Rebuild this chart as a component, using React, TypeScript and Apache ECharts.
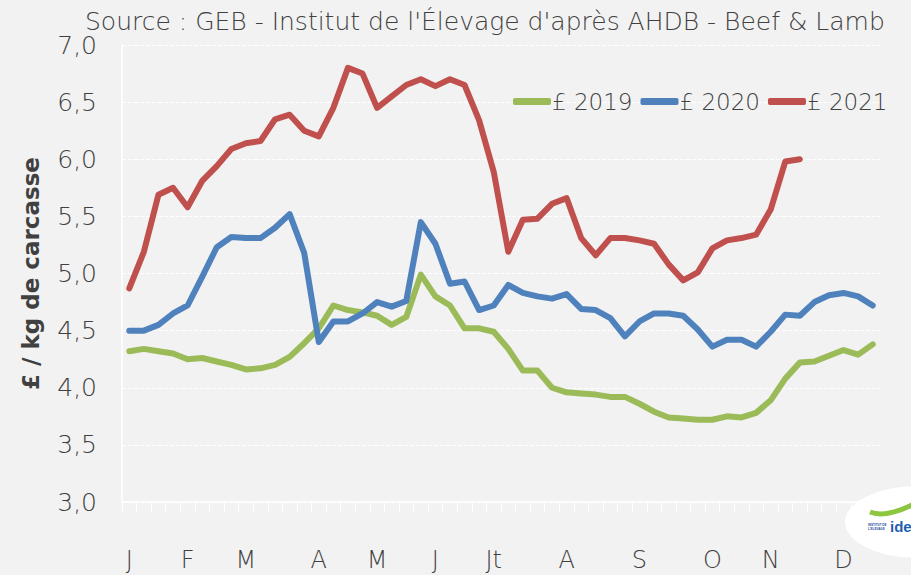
import React, { useEffect, useRef } from "react";
import * as echarts from "echarts";

const weeks = [
  "1", "2", "3", "4", "5", "6", "7", "8", "9", "10", "11", "12", "13",
  "14", "15", "16", "17", "18", "19", "20", "21", "22", "23", "24", "25", "26",
  "27", "28", "29", "30", "31", "32", "33", "34", "35", "36", "37", "38", "39",
  "40", "41", "42", "43", "44", "45", "46", "47", "48", "49", "50", "51", "52",
];
const monthLabelWeeks = [1, 5, 9, 14, 18, 22, 26, 31, 36, 41, 45, 50];
const monthLabels = ["J", "F", "M", "A", "M", "J", "Jt", "A", "S", "O", "N", "D"];

const p2019 = [
  4.32, 4.34, 4.32, 4.3, 4.25, 4.26, 4.23, 4.2, 4.16, 4.17, 4.2, 4.27, 4.39,
  4.52, 4.72, 4.68, 4.66, 4.63, 4.55, 4.62, 4.99, 4.8, 4.72, 4.52, 4.52, 4.49,
  4.34, 4.15, 4.15, 4.0, 3.96, 3.95, 3.94, 3.92, 3.92, 3.86, 3.79, 3.74, 3.73,
  3.72, 3.72, 3.75, 3.74, 3.78, 3.89, 4.08, 4.22, 4.23, 4.28, 4.33, 4.29, 4.38,
];
const p2020 = [
  4.5, 4.5, 4.55, 4.65, 4.72, 4.97, 5.23, 5.32, 5.31, 5.31, 5.4, 5.52, 5.18,
  4.4, 4.58, 4.58, 4.65, 4.75, 4.71, 4.76, 5.45, 5.26, 4.91, 4.93, 4.68, 4.72,
  4.9, 4.83, 4.8, 4.78, 4.82, 4.69, 4.68, 4.61, 4.45, 4.58, 4.65, 4.65, 4.63,
  4.51, 4.36, 4.42, 4.42, 4.36, 4.49, 4.64, 4.63, 4.75, 4.81, 4.83, 4.8, 4.72,
];
const p2021 = [
  4.87, 5.19, 5.69, 5.75, 5.58, 5.81, 5.94, 6.09, 6.14, 6.16, 6.35, 6.39, 6.25,
  6.2, 6.45, 6.8, 6.75, 6.45, 6.55, 6.65, 6.7, 6.64, 6.7, 6.65, 6.34, 5.89,
  5.19, 5.47, 5.48, 5.61, 5.66, 5.31, 5.16, 5.31, 5.31, 5.29, 5.26, 5.08, 4.94,
  5.01, 5.22, 5.29, 5.31, 5.34, 5.56, 5.98, 6.0,
];

const seriesNames = ["£ 2019", "£ 2020", "£ 2021"];
const seriesColors = ["#9bbb59", "#4f81bd", "#c0504d"];

const FONT = "'DejaVu Sans', sans-serif";
const TEXT = "#404040";
const LIGHT = 200;

export default function App() {
  const ref = useRef<HTMLDivElement>(null);

  useEffect(() => {
    if (!ref.current) return;
    const chart = echarts.init(ref.current, null, { renderer: "svg" });
    const values = [p2019, p2020, p2021];
    chart.setOption({
      animation: false,
      backgroundColor: "#f2f2f2",
      textStyle: { fontFamily: FONT },
      title: {
        text: "Source : GEB - Institut de l'Élevage d'après AHDB - Beef & Lamb",
        left: 80,
        top: 4,
        textStyle: { fontFamily: FONT, fontSize: 25, fontWeight: LIGHT, color: TEXT },
      },
      legend: {
        data: seriesNames,
        left: 508,
        top: 85,
        icon: "roundRect",
        itemWidth: 38,
        itemHeight: 7,
        itemGap: 8,
        textStyle: { fontFamily: FONT, fontSize: 23, fontWeight: LIGHT, color: TEXT, padding: [0, 0, 0, -4] },
      },
      grid: { left: 122, right: 31, top: 45, bottom: 73 },
      xAxis: {
        type: "category",
        data: weeks,
        boundaryGap: true,
        axisLine: { show: true, lineStyle: { color: "#ffffff", width: 1.5 } },
        axisTick: { show: true, interval: 0, length: 10, lineStyle: { color: "#ffffff" } },
        axisLabel: {
          interval: 0,
          margin: 46,
          fontFamily: FONT,
          fontSize: 24,
          fontWeight: LIGHT,
          color: TEXT,
          formatter: (_v: string, i: number) => {
            const k = monthLabelWeeks.indexOf(i + 1);
            return k >= 0 ? monthLabels[k] : "";
          },
        },
        splitLine: { show: false },
      },
      yAxis: {
        type: "value",
        min: 3,
        max: 7,
        interval: 0.5,
        name: "£ / kg de carcasse",
        nameLocation: "middle",
        nameGap: 80,
        nameTextStyle: { fontFamily: FONT, fontSize: 23, fontWeight: "bold", color: "#404040" },
        axisLine: { show: true, lineStyle: { color: "#ffffff", width: 1.5 } },
        axisTick: { show: false },
        axisLabel: {
          margin: 25,
          fontFamily: FONT,
          fontSize: 25,
          fontWeight: LIGHT,
          color: TEXT,
          formatter: (v: number) => v.toFixed(1).replace(".", ","),
        },
        splitLine: { show: true, lineStyle: { color: "#ffffff", width: 1, type: [4, 2] } },
      },
      series: seriesNames.map((name, i) => ({
        name,
        type: "line",
        data: values[i],
        showSymbol: false,
        symbol: "none",
        lineStyle: { width: 6, color: seriesColors[i], cap: "round", join: "round" },
        itemStyle: { color: seriesColors[i] },
        z: 2 + i,
      })),
      graphic: [
        {
          type: "ellipse",
          shape: { cx: 918, cy: 522, rx: 73, ry: 36 },
          style: { fill: "#ffffff" },
          z: 10,
        },
        {
          type: "bezierCurve",
          shape: { x1: 870, y1: 512, cpx1: 885, cpy1: 518, x2: 912, y2: 505 },
          style: { stroke: "#8dc63f", lineWidth: 5, fill: "none" },
          z: 11,
        },
        {
          type: "text",
          x: 868,
          y: 523,
          style: { text: "INSTITUT DE\nL'ELEVAGE", fill: "#1f4e9c", lineHeight: 4, font: "bold 3px sans-serif" },
          z: 11,
        },
        {
          type: "text",
          x: 890,
          y: 519,
          style: { text: "idele", fill: "#1f5fae", font: "bold 15px sans-serif" },
          z: 11,
        },
      ],
    });
    return () => chart.dispose();
  }, []);

  return (
    <div
      ref={ref}
      style={{ position: "fixed", left: 0, top: 0, width: 911, height: 575, background: "#f2f2f2" }}
    />
  );
}
